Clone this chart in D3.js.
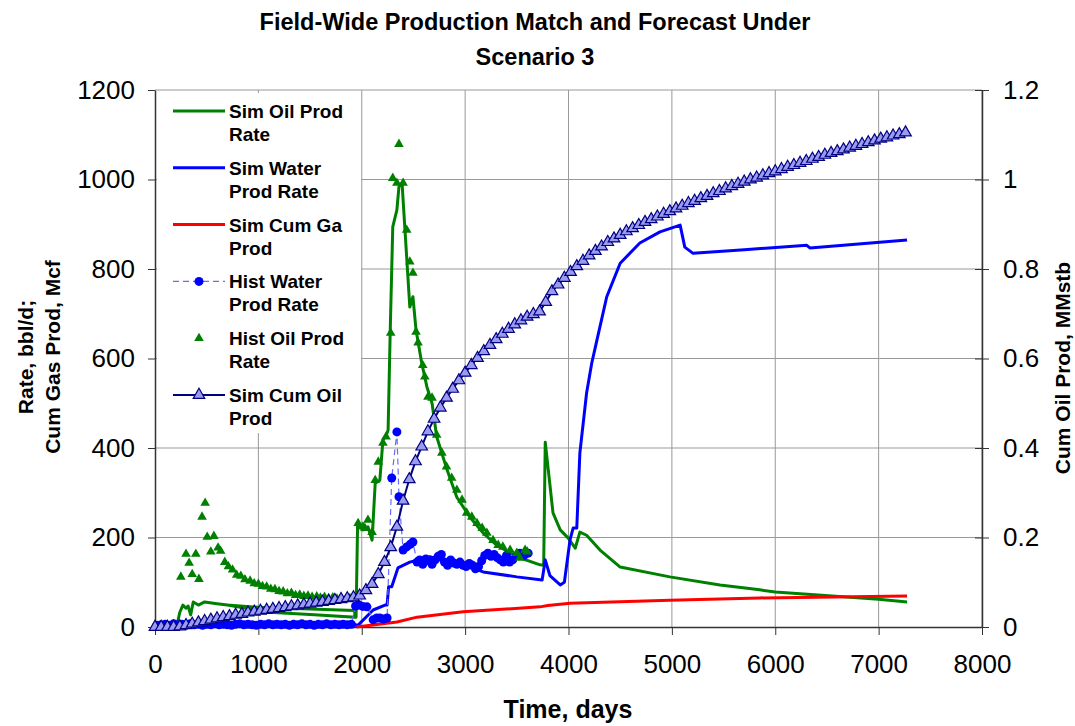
<!DOCTYPE html>
<html>
<head>
<meta charset="utf-8">
<script src="https://cdn.jsdelivr.net/npm/d3@7"></script>
<style>
  body { margin: 0; background: #fff; }
  svg { font-family: "Liberation Sans", Arial, sans-serif; }
</style>
</head>
<body>
<div id="chart"></div>
<script>
// ---- data: [day, value] ----
const simOil = [[0,0],[215,0],[220,12],[240,33],[270,49],[300,42],[320,47],[345,27],[370,56],[420,49],[480,56],[600,52],
  [700,49],[1000,44],[1500,40],[1930,37],[1935,22],[1500,28],[1100,33],[700,49],[1100,33],[1500,28],[1945,22],
  [1960,232],[2010,217],[2060,224],[2100,194],[2130,321],[2175,328],[2205,418],[2240,430],[2255,440],[2275,657],
  [2300,894],[2340,932],[2360,984],[2390,992],[2420,880],[2465,715],[2495,738],[2525,664],[2580,590],[2630,537],
  [2680,500],[2725,425],[2820,355],[2920,290],[3045,246],[3175,210],[3305,183],[3500,157],[3725,139],[3760,138],
  [3775,413],[3850,255],[3920,217],[4000,198],[4065,176],[4110,212],[4175,205],[4305,172],[4500,134],[4980,112],
  [5465,94],[5850,83],[6000,78],[7000,62],[7275,56]];

const simWater = [[0,5],[1945,5],[1955,2],[2110,38],[2225,49],[2245,49],[2260,90],[2290,90],[2350,132],[2465,145],
  [2660,157],[2755,150],[2980,139],[3175,123],[3500,112],[3745,105],[3775,150],[3820,115],[3920,94],[3960,100],
  [4015,195],[4045,221],[4080,221],[4110,389],[4175,523],[4225,590],[4275,641],[4370,738],[4500,813],[4690,858],[4885,883],
  [5080,898],[5125,849],[5205,835],[5700,843],[6305,853],[6335,847],[7275,865]];

const simCumGas = [[1950,0],[2340,11],[2535,22],[2980,34],[3725,45],[3800,48],[4015,53],[4980,60],[5850,65],[7275,69]];

const histWater = [[20,4],[60,5],[100,6],[140,4],[180,7],[220,5],[260,6],[300,4],[340,7],[380,5],[420,6],[460,4],
  [500,6],[540,5],[580,7],[620,5],[660,6],[700,5],[740,4],[780,6],[820,7],[860,5],[900,6],[940,5],[980,4],
  [1020,6],[1060,5],[1100,7],[1140,5],[1180,6],[1220,5],[1260,6],[1300,4],[1340,6],[1380,5],[1420,7],[1460,5],
  [1500,6],[1540,4],[1580,6],[1620,5],[1660,7],[1700,5],[1740,6],[1780,5],[1820,6],[1860,5],[1900,6],
  [1940,47],[1975,49],[2010,46],[2050,45],
  [2110,16],[2145,20],[2175,20],[2210,18],[2245,20],[2290,333],[2340,436],[2360,291],[2400,172],[2435,179],
  [2470,185],[2495,190],[2535,145],[2560,150],[2590,140],[2620,152],[2650,148],[2680,140],[2710,150],[2740,158],
  [2770,162],[2800,145],[2830,138],[2860,150],[2890,143],[2920,140],[2950,145],[2980,138],[3010,135],[3040,142],
  [3070,138],[3100,130],[3130,135],[3160,148],[3190,160],[3220,165],[3250,158],[3280,162],[3310,155],[3340,150],
  [3370,145],[3400,160],[3430,145],[3460,150],[3500,160],[3530,165],[3570,160],[3610,165]];

const histOil = [[250,112],[300,163],[330,143],[360,118],[395,163],[425,107],[455,246],[485,277],[505,201],[540,168],
  [570,203],[610,177],[635,170],[675,145],[710,135],[750,128],[790,116],[830,114],[870,106],[920,103],[960,97],
  [1000,96],[1040,91],[1080,90],[1120,85],[1160,84],[1200,80],[1240,79],[1280,75],[1320,76],[1360,71],[1400,72],
  [1440,69],[1480,70],[1520,67],[1565,68],[1600,65],[1640,67],[1680,64],[1720,66],[1760,63],[1800,65],[1845,62],
  [1885,64],[1965,232],[2010,224],[2030,221],[2060,239],[2100,212],[2130,328],[2160,369],[2205,411],[2235,425],
  [2280,657],[2300,1003],[2340,992],[2360,1079],[2400,992],[2435,887],[2465,816],[2495,791],[2525,659],[2545,635],
  [2590,585],[2610,559],[2640,514],[2680,512],[2725,429],[2775,389],[2820,358],[2870,333],[2920,306],[2970,284],
  [3015,255],[3065,246],[3115,232],[3165,221],[3210,210],[3270,194],[3320,183],[3365,179],[3435,172],[3500,165],
  [3530,154],[3580,172],[3600,168]];

// Sim cum oil (MMstb, right axis), one value every 60 days from day 0
const cumOilStep = 60;
const simCumOil = [0,0,0,0,0.001,0.004,0.007,0.010,0.013,0.016,0.019,0.022,0.024,0.027,0.029,0.032,0.034,0.036,
  0.038,0.040,0.042,0.044,0.046,0.048,0.050,0.052,0.054,0.056,0.058,0.060,0.062,0.064,0.066,0.070,0.082,0.096,
  0.118,0.145,0.178,0.224,0.282,0.330,0.370,0.403,0.437,0.465,0.490,0.512,0.532,0.551,0.568,0.585,0.601,0.616,
  0.630,0.643,0.655,0.666,0.676,0.685,0.693,0.699,0.705,0.726,0.750,0.765,0.780,0.793,0.806,0.818,0.830,0.840,
  0.850,0.860,0.868,0.876,0.884,0.891,0.898,0.905,0.911,0.917,0.923,0.929,0.935,0.941,0.947,0.952,0.958,0.963,
  0.969,0.974,0.980,0.985,0.990,0.995,1.000,1.004,1.009,1.014,1.018,1.023,1.028,1.032,1.037,1.041,1.046,1.050,
  1.055,1.059,1.063,1.067,1.071,1.075,1.079,1.083,1.087,1.091,1.094,1.098,1.101,1.105];

const xTicks = [0,1000,2000,3000,4000,5000,6000,7000,8000];
const yLeftTicks = [0,200,400,600,800,1000,1200];
const yRightTicks = [0,0.2,0.4,0.6,0.8,1,1.2];
const legendNames = [["Sim Oil Prod","Rate"],["Sim Water","Prod Rate"],["Sim Cum Ga","Prod"],
  ["Hist Water","Prod Rate"],["Hist Oil Prod","Rate"],["Sim Cum Oil","Prod"]];

// ---- layout ----
var W = 1075, H = 726,
    plot = {left: 155, right: 982, top: 90, bottom: 627};

var svg = d3.select("#chart").append("svg")
    .attr("width", W).attr("height", H);

var x = d3.scaleLinear().domain([0, 8000]).range([plot.left, plot.right]);
var y = d3.scaleLinear().domain([0, 1200]).range([plot.bottom, plot.top]);
var y2 = d3.scaleLinear().domain([0, 1.2]).range([plot.bottom, plot.top]);

var green = "#008000", blue = "#0000ff", red = "#ff0000", navy = "#000080";

// grid
svg.append("g").selectAll("line").data(xTicks.slice(1)).join("line")
    .attr("x1", d => x(d)).attr("x2", d => x(d))
    .attr("y1", plot.top).attr("y2", plot.bottom)
    .attr("stroke", "#999").attr("stroke-width", 1);
svg.append("g").selectAll("line").data(yLeftTicks.slice(1)).join("line")
    .attr("x1", plot.left).attr("x2", plot.right)
    .attr("y1", d => y(d)).attr("y2", d => y(d))
    .attr("stroke", "#999").attr("stroke-width", 1);

// axes
var xAxis = svg.append("g")
    .attr("transform", "translate(0," + plot.bottom + ")")
    .call(d3.axisBottom(x).tickValues(xTicks).tickSize(8).tickPadding(20).tickSizeOuter(0)
      .tickFormat(d3.format("d")));
var yAxis = svg.append("g")
    .attr("transform", "translate(" + plot.left + ",0)")
    .call(d3.axisLeft(y).tickValues(yLeftTicks).tickSize(7).tickPadding(13).tickSizeOuter(0)
      .tickFormat(d3.format("d")));
var yAxis2 = svg.append("g")
    .attr("transform", "translate(" + plot.right + ",0)")
    .call(d3.axisRight(y2).tickValues(yRightTicks).tickSize(7).tickPadding(14).tickSizeOuter(0)
      .tickFormat(d3.format("~g")));
yAxis2.selectAll(".tick line").attr("x1", -7);

[xAxis, yAxis, yAxis2].forEach(function(g){
  g.select(".domain").attr("stroke", "#333").attr("stroke-width", 1.5);
  g.selectAll(".tick line").attr("stroke", "#333");
  g.selectAll("text").attr("font-size", 26).attr("fill", "#000")
   .attr("font-family", "'Liberation Sans', Arial, sans-serif");
});
xAxis.selectAll("text").attr("dy", "0.71em");

// ---- series ----
var line = d3.line().x(d => x(d[0])).y(d => y(d[1]));

svg.append("path").datum(simOil)
    .attr("fill", "none").attr("stroke", green).attr("stroke-width", 3)
    .attr("stroke-linejoin", "round").attr("d", line);
svg.append("path").datum(simWater)
    .attr("fill", "none").attr("stroke", blue).attr("stroke-width", 3)
    .attr("stroke-linejoin", "round").attr("d", line);
svg.append("path").datum(simCumGas)
    .attr("fill", "none").attr("stroke", red).attr("stroke-width", 3)
    .attr("stroke-linejoin", "round").attr("d", line);

// hist water: dashed line + dots
svg.append("path").datum(histWater)
    .attr("fill", "none").attr("stroke", "#6a6aff").attr("stroke-width", 1.2)
    .attr("stroke-dasharray", "6,4").attr("d", line);
svg.append("g").selectAll("circle").data(histWater).join("circle")
    .attr("cx", d => x(d[0])).attr("cy", d => y(d[1])).attr("r", 4.5)
    .attr("fill", blue);

// hist oil triangles
var tri = d3.symbol(d3.symbolTriangle);
svg.append("g").selectAll("path").data(histOil).join("path")
    .attr("transform", d => "translate(" + x(d[0]) + "," + y(d[1]) + ")")
    .attr("d", tri.size(40)()).attr("fill", green);

// sim cum oil on right axis
var cumOil = simCumOil.map((v, i) => [i * cumOilStep, v]);
var line2 = d3.line().x(d => x(d[0])).y(d => y2(d[1]));
svg.append("path").datum(cumOil)
    .attr("fill", "none").attr("stroke", navy).attr("stroke-width", 2).attr("d", line2);
svg.append("g").selectAll("path").data(cumOil).join("path")
    .attr("transform", d => "translate(" + x(d[0]) + "," + y2(d[1]) + ")")
    .attr("d", tri.size(58)()).attr("fill", "#9a9aee").attr("stroke", navy).attr("stroke-width", 1.2);

// ---- legend ----
var legend = svg.append("g");
legend.append("rect").attr("x", 157).attr("y", 93).attr("width", 204).attr("height", 340).attr("fill", "#fff");
var entry = legend.selectAll("g.entry").data(legendNames).join("g")
    .attr("class", "entry")
    .attr("transform", (d, i) => "translate(0," + (111 + i * 56.8) + ")");
entry.each(function(d, i){
  var g = d3.select(this);
  if (i === 0 || i === 1 || i === 2) {
    g.append("line").attr("x1", 173).attr("x2", 225).attr("y1", 0).attr("y2", 0)
      .attr("stroke", [green, blue, red][i]).attr("stroke-width", 3);
  } else if (i === 3) {
    g.append("line").attr("x1", 173).attr("x2", 225).attr("y1", 0).attr("y2", 0)
      .attr("stroke", "#6a6aff").attr("stroke-width", 1.2).attr("stroke-dasharray", "6,4");
    g.append("circle").attr("cx", 199).attr("cy", 0).attr("r", 4.5).attr("fill", blue);
  } else if (i === 4) {
    g.append("path").attr("transform", "translate(199,0)").attr("d", tri.size(40)()).attr("fill", green);
  } else {
    g.append("line").attr("x1", 173).attr("x2", 225).attr("y1", 0).attr("y2", 0)
      .attr("stroke", navy).attr("stroke-width", 2);
    g.append("path").attr("transform", "translate(199,0)").attr("d", tri.size(58)())
      .attr("fill", "#9a9aee").attr("stroke", navy).attr("stroke-width", 1.2);
  }
  g.selectAll("text.l").data(d).join("text")
    .attr("x", 229).attr("y", (t, j) => 7 + j * 23)
    .attr("font-size", 19).attr("font-weight", "bold").text(t => t);
});

// ---- titles ----
svg.append("text").attr("x", 535).attr("y", 30).attr("text-anchor", "middle")
    .attr("font-size", 23.5).attr("font-weight", "bold")
    .text("Field-Wide Production Match and Forecast Under");
svg.append("text").attr("x", 535).attr("y", 65).attr("text-anchor", "middle")
    .attr("font-size", 23.5).attr("font-weight", "bold").text("Scenario 3");

svg.append("text").attr("x", 568).attr("y", 718).attr("text-anchor", "middle")
    .attr("font-size", 25).attr("font-weight", "bold").text("Time, days");

var yl = svg.append("text").attr("transform", "translate(33,357) rotate(-90)")
    .attr("text-anchor", "middle").attr("font-size", 21).attr("font-weight", "bold");
yl.append("tspan").attr("x", 0).attr("y", 0).text("Rate, bbl/d;");
yl.append("tspan").attr("x", 0).attr("y", 27).text("Cum Gas Prod, Mcf");

svg.append("text").attr("transform", "translate(1070,368) rotate(-90)")
    .attr("text-anchor", "middle").attr("font-size", 21).attr("font-weight", "bold")
    .text("Cum Oil Prod, MMstb");
</script>
</body>
</html>
